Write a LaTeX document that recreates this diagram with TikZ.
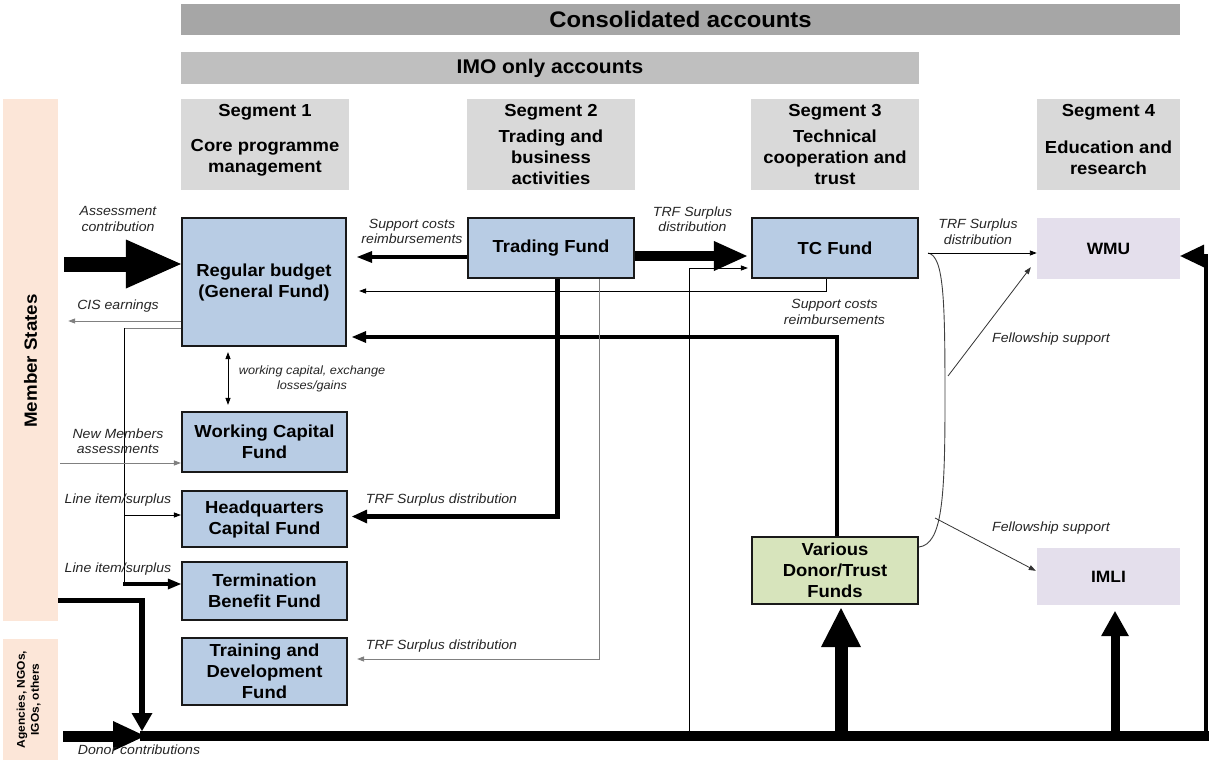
\documentclass[tikz,border=0pt]{standalone}
\usepackage{fontspec}
\setmainfont{Liberation Sans}[FakeStretch=1.06]
\usetikzlibrary{arrows.meta,calc}
\definecolor{fundblue}{HTML}{B8CCE4}
\definecolor{hdrgray}{HTML}{D9D9D9}
\definecolor{consgray}{HTML}{A6A6A6}
\definecolor{imogray}{HTML}{BFBFBF}
\definecolor{peach}{HTML}{FCE6D8}
\definecolor{donorgreen}{HTML}{D7E4BC}
\definecolor{lav}{HTML}{E4DFEC}
\definecolor{linegray}{HTML}{808080}
\definecolor{labelink}{HTML}{262626}
\newcommand\myboxfont{\bfseries\fontsize{17.4}{21}\selectfont}
\newcommand\mylabfont{\itshape\fontsize{13.3}{15.5}\selectfont}
\tikzset{
  fundbox/.style={draw=black!90, line width=1.6pt, fill=fundblue, inner sep=0pt, align=center, font=\myboxfont},
  segbox/.style={fill=hdrgray, inner sep=0pt, minimum height=91pt},
  segtext/.style={inner sep=0pt, align=center, font=\myboxfont},
  lab/.style={inner sep=0pt, align=center, font=\mylabfont, text=labelink},
  thinblack/.style={line width=0.9pt, black},
  thingray/.style={line width=1pt, linegray},
  smalltip/.style={-{Triangle[length=7pt,width=5pt]}},
}
\begin{document}
\begin{tikzpicture}[x=1pt,y=-1pt]
\useasboundingbox (0,0) rectangle (1213,760);
\fill[white] (0,0) rectangle (1213,760);

% ---- header bars
\node[fill=consgray, inner sep=0pt, minimum width=999pt, minimum height=31pt,
      font=\bfseries\fontsize{22.5}{26}\selectfont] (cons) at (680.5,19.5) {Consolidated accounts};
\node[fill=imogray, inner sep=0pt, minimum width=738pt, minimum height=32pt,
      font=\bfseries\fontsize{19.8}{23}\selectfont] (imo) at (550,68.5) {IMO only accounts};

% ---- segment headers
\node[segbox, minimum width=168pt] (seg1) at (265,144.5) {};
\node[segbox, minimum width=168pt] (seg2) at (551,144.5) {};
\node[segbox, minimum width=168pt] (seg3) at (835,144.5) {};
\node[segbox, minimum width=143pt] (seg4) at (1108.5,144.5) {};
\node[segtext] (s1t) at (265,112) {Segment 1};
\node[segtext] (s2t) at (551,112) {Segment 2};
\node[segtext] (s3t) at (835,112) {Segment 3};
\node[segtext] (s4t) at (1108.5,112) {Segment 4};
\node[segtext] (s1b) at (265,157.5) {Core programme\\management};
\node[segtext] (s2b) at (551,157.5) {Trading and\\business\\activities};
\node[segtext] (s3b) at (835,157.5) {Technical\\cooperation and\\trust};
\node[segtext] (s4b) at (1108.5,157.5) {Education and\\research};

% ---- side bars
\node[fill=peach, inner sep=0pt, minimum width=55pt, minimum height=522pt] (ms) at (30.5,360) {};
\node[rotate=90, inner sep=0pt, font=\bfseries\fontsize{17.7}{21}\selectfont] (mst) at (30.5,361) {Member States};
\node[fill=peach, inner sep=0pt, minimum width=55pt, minimum height=121pt] (ag) at (30.5,699.5) {};
\node[rotate=90, inner sep=0pt, align=center, font=\bfseries\fontsize{11.3}{14}\selectfont] (agt) at (28.7,699.5) {Agencies, NGOs,\\IGOs, others};

% ---- fund boxes
\node[fundbox, minimum width=164.5pt, minimum height=128.5pt] (rb) at (264,282) {Regular budget\\(General Fund)};
\node[fundbox, minimum width=166.5pt, minimum height=60.5pt] (tf) at (551,248) {Trading Fund};
\node[fundbox, minimum width=166.5pt, minimum height=60.5pt] (tc) at (835,248) {TC Fund};
\node[fill=lav, inner sep=0pt, minimum width=143pt, minimum height=61pt, font=\bfseries\fontsize{16.4}{20}\selectfont] (wmu) at (1108.5,248.5) {WMU};
\node[fundbox, minimum width=165.5pt, minimum height=60.5pt] (wcf) at (264.5,442) {Working Capital\\Fund};
\node[fundbox, minimum width=165.5pt, minimum height=56.5pt] (hq) at (264.5,519) {Headquarters\\Capital Fund};
\node[fundbox, minimum width=165.5pt, minimum height=58.5pt] (tb) at (264.5,591) {Termination\\Benefit Fund};
\node[fundbox, minimum width=165.5pt, minimum height=67.5pt] (td) at (264.5,671.5) {Training and\\Development\\Fund};
\node[fundbox, fill=donorgreen, minimum width=166.5pt, minimum height=67.5pt] (donor) at (835,570.5) {Various\\Donor/Trust\\Funds};
\node[fill=lav, inner sep=0pt, minimum width=143pt, minimum height=57pt, font=\bfseries\fontsize{16.4}{20}\selectfont] (imli) at (1108.5,576.5) {IMLI};

% ---- connectors
% assessment contribution (fat)
\draw[line width=15pt, -{Triangle[length=55pt,width=49pt,line width=0pt]}]
  ($(ms.east |- 0,264)+(6,0)$) -- (rb.west |- 0,264);
% CIS earnings
\draw[thingray, smalltip] (rb.west |- 0,321) -- ($(ms.east |- 0,321)+(10,0)$);
% line item / surplus feed
\draw[thingray] (rb.west |- 0,328) -- (124,328);
\draw[thinblack] (124,328) -- (124,584);
\draw[thinblack, smalltip] (124,515) -- (hq.west |- 0,515);
\draw[line width=3.5pt, -{Triangle[length=13pt,width=11pt,line width=0pt]}] (123,584) -- (tb.west |- 0,584);
% new members
\draw[thingray, smalltip] ($(ms.east |- 0,463)+(2,0)$) -- (wcf.west |- 0,463);
% working capital double arrow
\draw[thinblack, {Triangle[length=7pt,width=5pt]}-{Triangle[length=7pt,width=5pt]}]
  ($(rb.south -| 228,0)+(0,5)$) -- ($(wcf.north -| 228,0)+(0,-6)$);
% support costs trading -> RB
\draw[line width=4pt, -{Triangle[length=15pt,width=12pt,line width=0pt]}]
  (tf.west |- 0,257) -- ($(rb.east |- 0,257)+(10,0)$);
% support costs TC -> RB (thin)
\draw[thinblack, smalltip] (tc.south -| 826,0) |- ($(rb.east |- 0,291)+(12,0)$);
% donor funds -> RB (thick)
\draw[line width=3.5pt, -{Triangle[length=14pt,width=12pt,line width=0pt]}]
  (donor.north -| 837,0) |- ($(rb.east |- 0,337)+(5,0)$);
% trading -> HQ capital fund
\draw[line width=5pt, -{Triangle[length=15pt,width=14pt,line width=0pt]}]
  (tf.south -| 557,0) |- ($(hq.east |- 0,516.5)+(4,0)$);
% trading -> training fund (thin gray)
\draw[thingray, smalltip] (tf.south -| 599,0) |- ($(td.east |- 0,659)+(9,0)$);
% thin line from bottom to TC fund
\coordinate (b689) at (689,731);
\draw[thinblack, smalltip] (b689) |- ($(tc.west |- 0,268)+(-3,0)$);
% TRF surplus trading -> TC (fat)
\draw[line width=10pt, -{Triangle[length=33pt,width=30pt,line width=0pt]}]
  (tf.east |- 0,256) -- ($(tc.west |- 0,256)+(-4,0)$);
% bracket
\coordinate (brtop) at ($(tc.east |- 0,253)+(9,0)$);
\coordinate (brbot) at (donor.east |- 0,547);
\draw[line width=0.9pt, black!75] (brtop) .. controls (944,256) and (945,300) .. (945,400)
   .. controls (945,500) and (942,544) .. (brbot);
% TRF surplus -> WMU
\draw[thinblack, smalltip] (brtop) -- (wmu.west |- 0,253);
% fellowship support
\coordinate (f1s) at (948,376);
\coordinate (f2s) at (935,518);
\draw[line width=0.8pt, black!80, smalltip] (f1s) -- ($(wmu.south west)+(-6,-12)$);
\draw[line width=0.8pt, black!80, smalltip] (f2s) -- ($(imli.north west)+(-1,23)$);
% member states -> bottom line
\draw[line width=5.5pt, -{Triangle[length=18pt,width=21pt,line width=0pt]}]
  (ms.east |- 0,600.5) -| (142,731);
% donor contributions arrow and bottom line
\draw[line width=11pt, -{Triangle[length=32pt,width=30pt,line width=0pt]}]
  ($(ag.east |- 0,736)+(5,0)$) -- (145,736);
\draw[line width=10pt] (140,736) -- (1208.5,736);
% up to donor funds
\draw[line width=13pt, -{Triangle[length=39pt,width=40pt,line width=0pt]}]
  (841,736) -- ($(donor.south -| 841,0)+(0,3)$);
% up to IMLI
\draw[line width=9pt, -{Triangle[length=25pt,width=28pt,line width=0pt]}]
  (1115,736) -- ($(imli.south -| 1115,0)+(0,6)$);
% right side up to WMU
\draw[line width=4.5pt, -{Triangle[length=24pt,width=23pt,line width=0pt]}]
  (1206,738) |- (wmu.east |- 0,256);

% ---- labels
\node[lab] at (118,219) {Assessment\\contribution};
\node[lab] at (118,306) {CIS earnings};
\node[lab] at (118,441) {New Members\\assessments};
\node[lab] at (118,500) {Line item/surplus};
\node[lab] at (118,569) {Line item/surplus};
\node[lab] at (412,231.5) {Support costs\\reimbursements};
\node[lab, font=\itshape\fontsize{12}{14.5}\selectfont] at (312,379) {working capital, exchange\\losses/gains};
\node[lab] at (441.5,500) {TRF Surplus distribution};
\node[lab] at (441.5,646) {TRF Surplus distribution};
\node[lab] at (692.5,219) {TRF Surplus\\distribution};
\node[lab] at (834.5,312) {Support costs\\reimbursements};
\node[lab] at (978,231.5) {TRF Surplus\\distribution};
\node[lab] at (1051,339) {Fellowship support};
\node[lab] at (1051,528) {Fellowship support};
\node[lab] at (139,750) {Donor contributions};
\end{tikzpicture}
\end{document}
